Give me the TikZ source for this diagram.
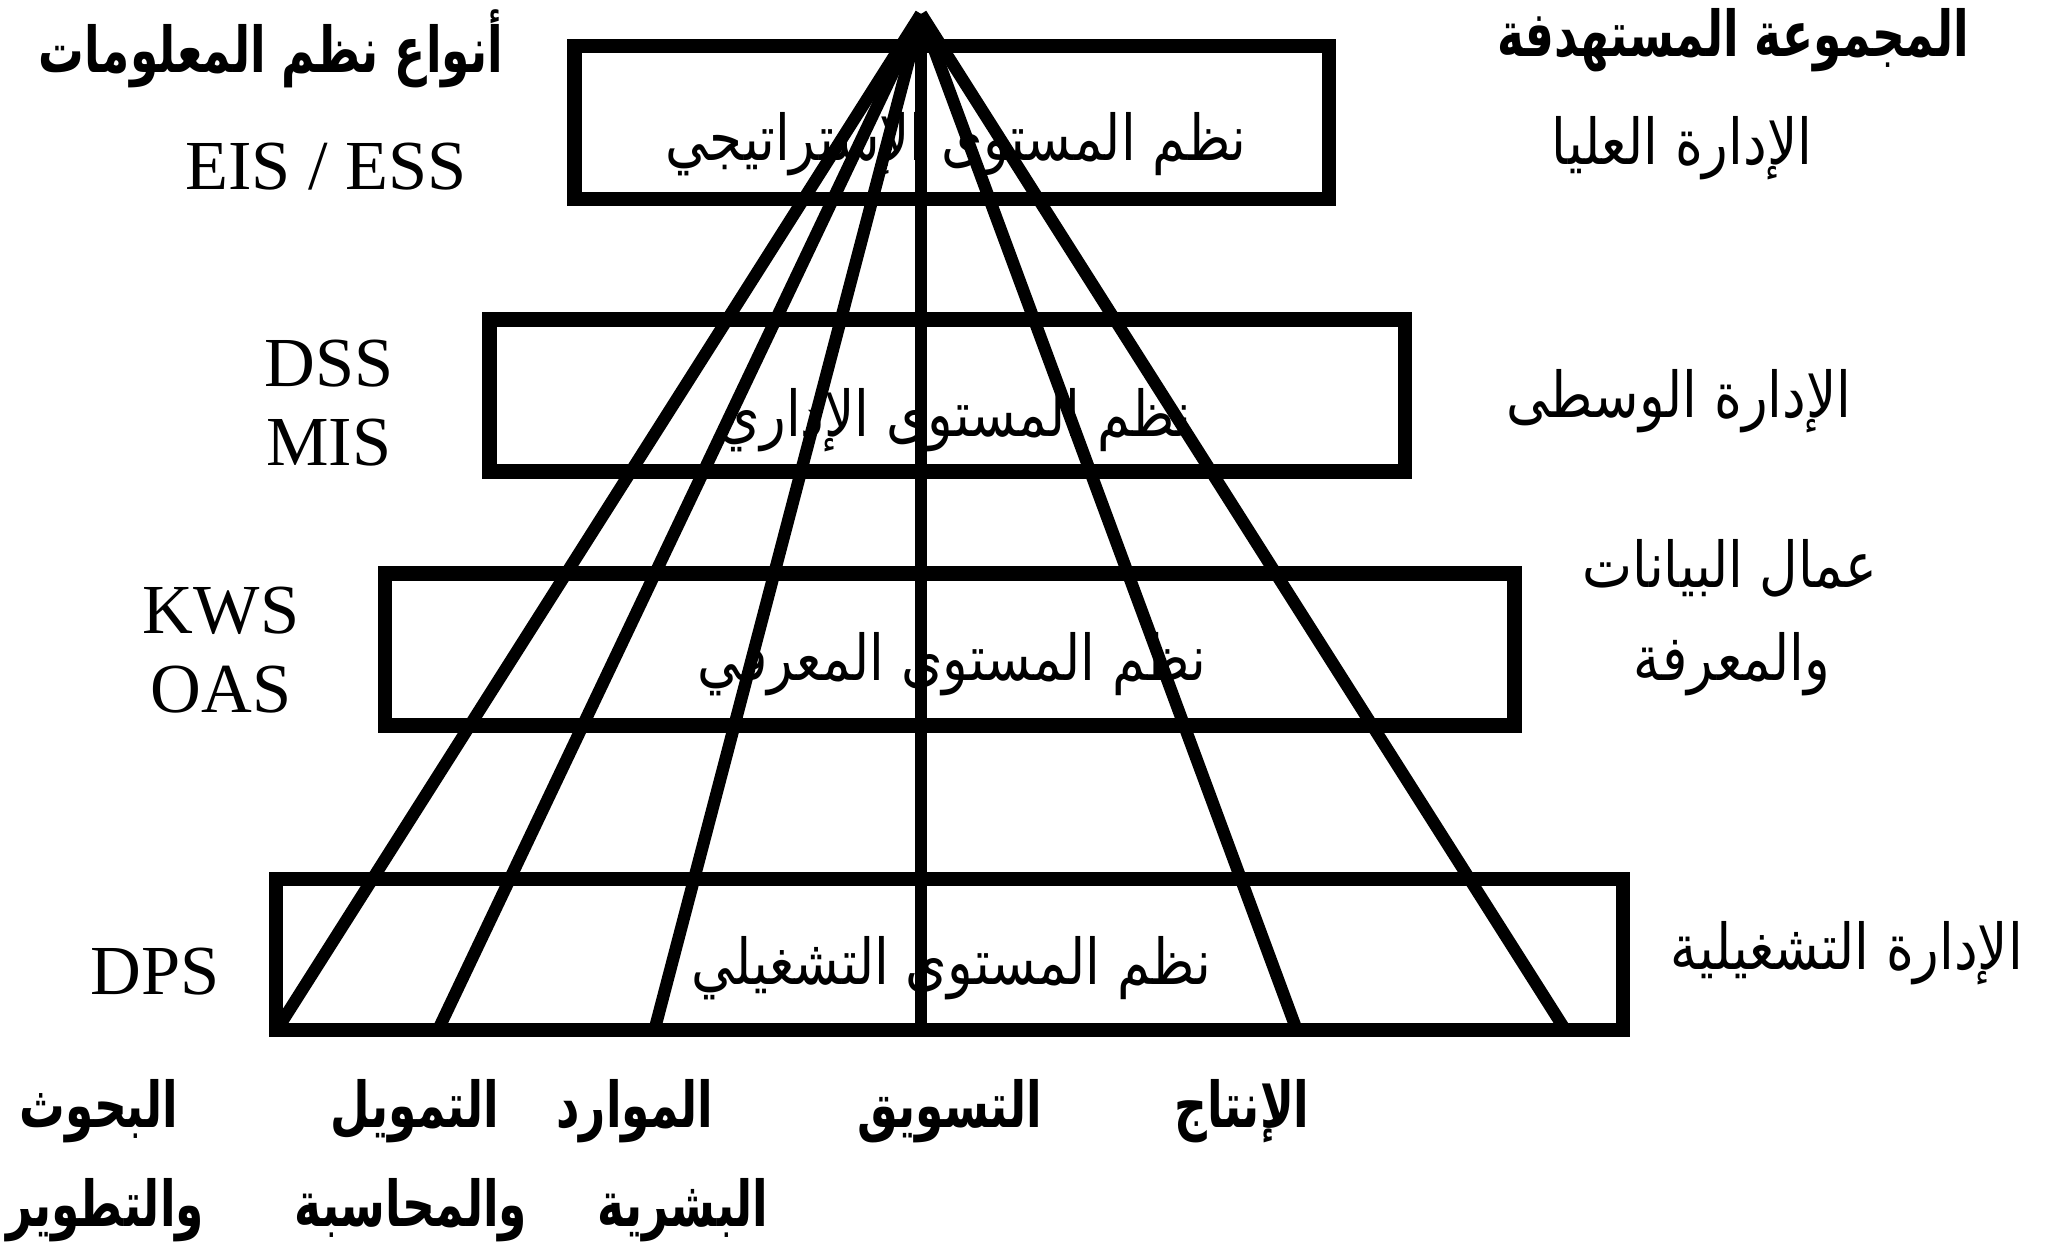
\documentclass[tikz,border=0pt]{standalone}
\usepackage{fontspec}
\setmainfont{Liberation Serif}
\newfontfamily\arabicfont[Script=Arabic,FakeStretch=0.84]{DejaVu Sans}
\newfontfamily\arabicnarrow[Script=Arabic,FakeStretch=0.72]{DejaVu Sans}
\TeXXeTstate=1
\begin{document}
\begin{tikzpicture}[x=1cm,y=1cm,
  levelbox/.style={draw, line width=4pt, inner sep=0pt},
  latin/.style={font=\fontsize{20}{24}\selectfont, inner sep=0pt},
  arlab/.style={font=\arabicfont\fontsize{18}{22}\selectfont, inner sep=0pt},
  arbold/.style={font=\arabicnarrow\bfseries\fontsize{18}{22}\selectfont, inner sep=0pt},
  fanline/.style={line width=3.5pt}]
\useasboundingbox (0,0) rectangle (20.6,12.46);
% level boxes
\node[levelbox, minimum width=7.545cm, minimum height=1.53cm] (r1) at (9.5175,11.235) {};
\node[levelbox, minimum width=9.155cm, minimum height=1.52cm] (r2) at (9.4725,8.505) {};
\node[levelbox, minimum width=11.295cm, minimum height=1.52cm] (r3) at (9.4975,5.965) {};
\node[levelbox, minimum width=13.47cm, minimum height=1.51cm] (r4) at (9.495,2.915) {};
% box texts
\node[arlab] (t1) at (9.56,11.02) {\beginR نظم المستوى الإستراتيجي\endR};
\node[arlab] (t2) at (9.55,8.26) {\beginR نظم المستوى الإداري\endR};
\node[arlab] (t3) at (9.52,5.82) {\beginR نظم المستوى المعرفي\endR};
\node[arlab] (t4) at (9.51,2.78) {\beginR نظم المستوى التشغيلي\endR};
% headers
\node[arbold] (hl) at (2.71,11.97) {\beginR أنواع نظم المعلومات\endR};
\node[arbold] (hr) at (17.33,12.06) {\beginR المجموعة المستهدفة\endR};
% left labels
\node[latin] (eis) at (3.26,10.79) {EIS / ESS};
\node[latin] (dss) at (3.29,8.82) {DSS};
\node[latin] (mis) at (3.29,8.03) {MIS};
\node[latin] (kws) at (2.21,6.35) {KWS};
\node[latin] (oas) at (2.21,5.56) {OAS};
\node[latin] (dps) at (1.55,2.74) {DPS};
% right labels
\node[arlab] (g1) at (16.82,10.98) {\beginR الإدارة العليا\endR};
\node[arlab] (g2) at (16.79,8.45) {\beginR الإدارة الوسطى\endR};
\node[arlab] (g3a) at (17.30,6.78) {\beginR عمال البيانات\endR};
\node[arlab] (g3b) at (17.32,5.82) {\beginR والمعرفة\endR};
\node[arlab] (g4) at (18.47,2.93) {\beginR الإدارة التشغيلية\endR};
% bottom labels
\node[arbold] (f1a) at (0.99,1.35) {\beginR البحوث\endR};
\node[arbold] (f1b) at (1.05,0.36) {\beginR والتطوير\endR};
\node[arbold] (f2a) at (4.15,1.35) {\beginR التمويل\endR};
\node[arbold] (f2b) at (4.11,0.36) {\beginR والمحاسبة\endR};
\node[arbold] (f3a) at (6.35,1.35) {\beginR الموارد\endR};
\node[arbold] (f3b) at (6.83,0.36) {\beginR البشرية\endR};
\node[arbold] (f4) at (9.50,1.35) {\beginR التسويق\endR};
\node[arbold] (f5) at (12.42,1.35) {\beginR الإنتاج\endR};
% fan
\coordinate (apex) at (9.21,12.32);
\coordinate (b1) at (2.78,2.18);
\coordinate (b2) at (4.39,2.18);
\coordinate (b3) at (6.55,2.18);
\coordinate (b4) at (9.21,2.18);
\coordinate (b5) at (12.96,2.18);
\coordinate (b6) at (15.64,2.18);
\draw[fanline] (apex) -- (b1);
\draw[fanline] (apex) -- (b2);
\draw[fanline] (apex) -- (b3);
\draw[fanline] (apex) -- (b4);
\draw[fanline] (apex) -- (b5);
\draw[fanline] (apex) -- (b6);
\end{tikzpicture}
\end{document}
